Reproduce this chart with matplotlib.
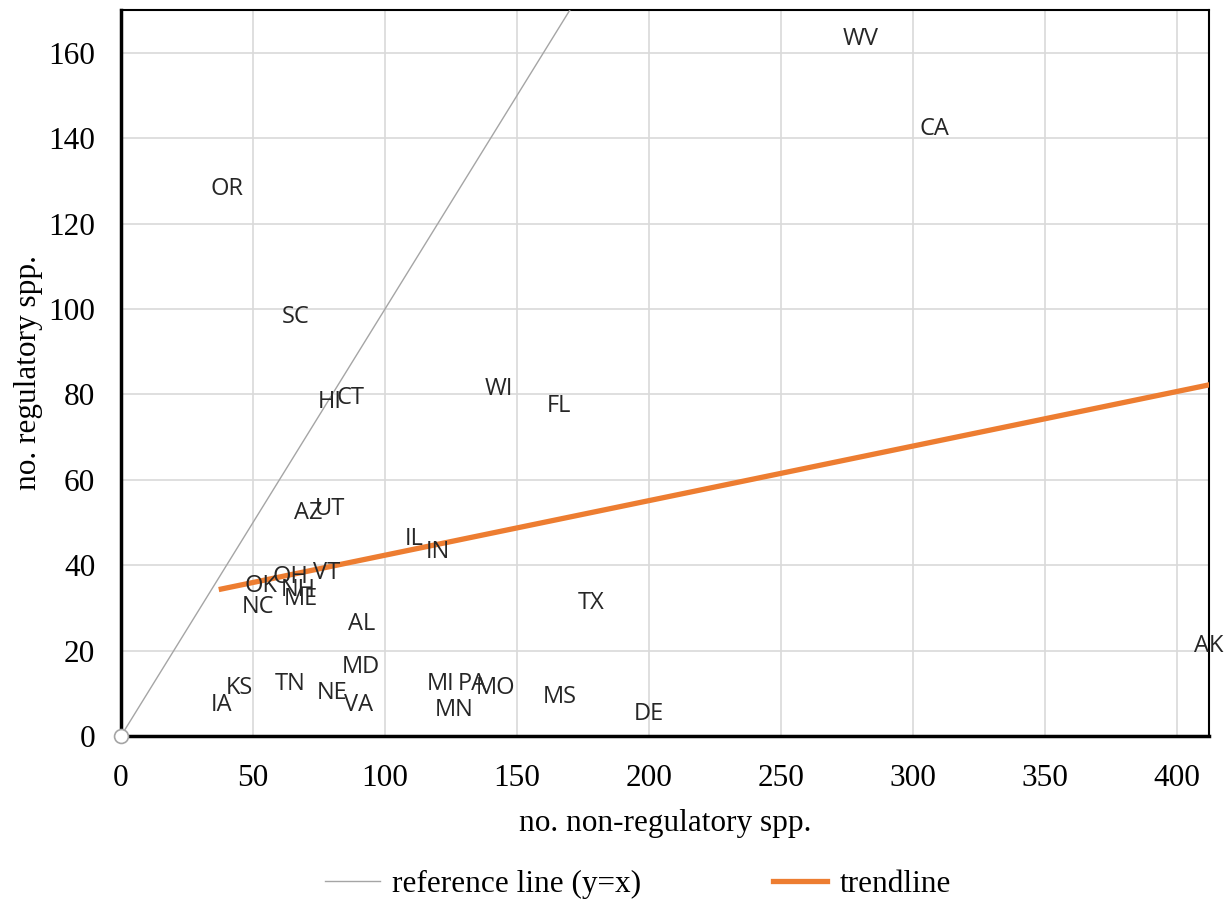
import numpy as np
import matplotlib
matplotlib.use("Agg")
import matplotlib.pyplot as plt

states = ["WV", "CA", "OR", "SC", "HI", "CT", "WI", "FL", "AZ", "UT", "IL", "IN",
          "OH", "VT", "OK", "NH", "ME", "NC", "AL", "TX", "AK", "MD", "KS", "IA",
          "TN", "NE", "VA", "MI", "PA", "MO", "MN", "MS", "DE"]
non_reg = [280, 308, 40, 66, 79, 87, 143, 166, 71, 79, 111, 120,
           64, 78, 53, 67, 68, 52, 91, 178, 412, 91, 45, 38,
           64, 80, 90, 121, 133, 142, 126, 166, 200]
reg = [164, 143, 129, 99, 79, 80, 82, 78, 53, 54, 47, 44,
       38, 39, 36, 35, 33, 31, 27, 32, 22, 17, 12, 8,
       13, 11, 8, 13, 13, 12, 7, 10, 6]

x = np.array(non_reg)
y = np.array(reg)

fig = plt.figure(figsize=(12.27, 8.99), dpi=100)
ax = fig.add_axes([0.0986, 0.1813, 0.8867, 0.8076])

serif = "Liberation Serif"

# reference line y=x
ref_x = np.array([0, 412])
ax.plot(ref_x, ref_x, color="#a5a5a5", lw=1, label="reference line (y=x)", zorder=3)
ax.plot([0], [0], "o", mfc="white", mec="#a5a5a5", ms=10, mew=1.2, zorder=4, clip_on=False)

# trendline
z = np.polyfit(x, y, 1)
p = np.poly1d(z)
tx = np.array([x.min(), x.max()])
ax.plot(tx, p(tx), color="#ED7D31", lw=3.8, label="trendline", zorder=3)

for s, xi, yi in zip(states, x, y):
    ax.annotate(s, (xi, yi), xytext=(0, -2.5), textcoords="offset points",
                ha="center", va="center", fontsize=17,
                family="Open Sans", color="#262626", zorder=5, annotation_clip=False)

ax.set_xlim(0, 412)
ax.set_ylim(0, 170)
ax.set_xticks(np.arange(0, 401, 50))
ax.set_yticks(np.arange(0, 161, 20))
ax.grid(color="#d9d9d9", lw=1.2)
ax.set_axisbelow(True)
ax.tick_params(length=0, labelsize=22.5)
ax.tick_params(axis="x", pad=20)
ax.tick_params(axis="y", pad=18.5)
for lab in ax.get_xticklabels() + ax.get_yticklabels():
    lab.set_family(serif)
for sp in ax.spines.values():
    sp.set_color("black")
    sp.set_linewidth(1.5)
ax.spines["bottom"].set_linewidth(2.5)
ax.spines["left"].set_linewidth(2.5)

ax.set_xlabel("no. non-regulatory spp.", fontsize=22.5, family=serif, labelpad=12)
ax.set_ylabel("no. regulatory spp.", fontsize=22.5, family=serif, labelpad=4)

leg = fig.legend(loc="lower center", bbox_to_anchor=(0.52, -0.031), ncol=2, frameon=False,
                 prop={"family": serif, "size": 22.5}, handlelength=1.75,
                 handletextpad=0.4, columnspacing=4.2)

fig.savefig("out.png", dpi=100)
